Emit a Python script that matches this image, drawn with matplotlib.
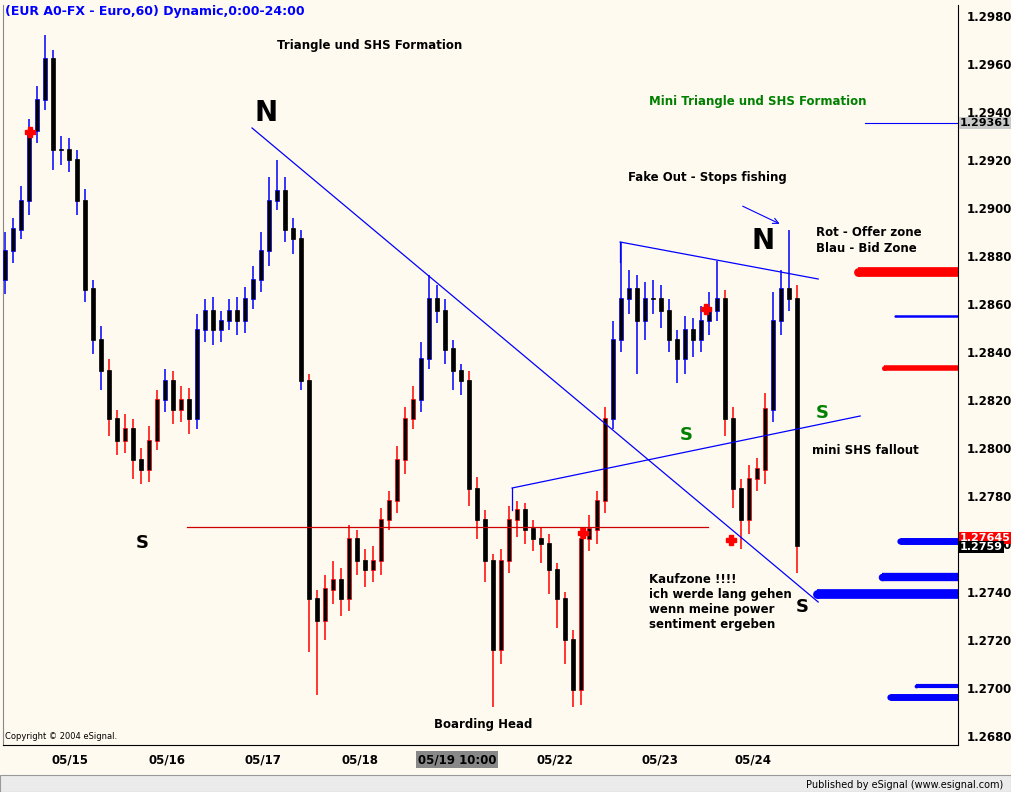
import numpy as np
import matplotlib.pyplot as plt

# hourly-ish EUR/USD bars (2h spacing)
closes = [1.2882, 1.2891, 1.2903, 1.2932, 1.2945, 1.2962, 1.2924, 1.2924, 1.2920, 1.2903,
          1.2866, 1.2845, 1.2832, 1.2812, 1.2803, 1.2808, 1.2795, 1.2791, 1.2803, 1.2820,
          1.2828, 1.2816, 1.2820, 1.2812, 1.2849, 1.2857, 1.2849, 1.2853, 1.2857, 1.2853,
          1.2862, 1.2870, 1.2882, 1.2903, 1.2907, 1.2891, 1.2887, 1.2828, 1.2737, 1.2728,
          1.2741, 1.2745, 1.2737, 1.2762, 1.2753, 1.2749, 1.2753, 1.2770, 1.2778, 1.2795,
          1.2812, 1.2820, 1.2837, 1.2862, 1.2857, 1.2841, 1.2832, 1.2828, 1.2783, 1.2770,
          1.2753, 1.2716, 1.2753, 1.2770, 1.2774, 1.2766, 1.2762, 1.2760, 1.2749, 1.2737,
          1.2720, 1.2699, 1.2762, 1.2766, 1.2778, 1.2812, 1.2845, 1.2862, 1.2866, 1.2853,
          1.2862, 1.2862, 1.2857, 1.2845, 1.2837, 1.2849, 1.2845, 1.2853, 1.2857, 1.2862,
          1.2812, 1.2783, 1.2770, 1.2787, 1.2791, 1.2816, 1.2853, 1.2866, 1.2862, 1.2759]
first_open = 1.2870
# wick extensions beyond the body, in pips
wick_up = [8, 5, 6, 5, 6, 10, 4, 6, 5, 4, 5, 4, 6, 5, 4, 6, 4, 5, 6, 4,
           5, 4, 6, 5, 7, 5, 6, 4, 5, 6, 5, 6, 8, 10, 13, 6, 5, 4, 3, 4,
           6, 8, 5, 6, 4, 5, 6, 5, 4, 6, 5, 6, 7, 10, 6, 5, 4, 3, 4, 5,
           4, 3, 5, 6, 4, 3, 4, 5, 4, 3, 3, 4, 5, 6, 4, 5, 8, 24, 8, 6,
           7, 8, 6, 5, 4, 6, 5, 6, 8, 16, 4, 5, 4, 6, 5, 7, 12, 8, 25, 6]
wick_dn = [6, 5, 4, 6, 5, 4, 8, 6, 5, 6, 5, 6, 8, 7, 6, 5, 8, 6, 5, 4,
           5, 6, 5, 6, 4, 5, 6, 5, 4, 6, 5, 4, 5, 6, 4, 5, 6, 4, 22, 31,
           8, 6, 7, 5, 6, 7, 5, 6, 4, 5, 6, 4, 5, 4, 5, 6, 8, 6, 7, 8,
           9, 24, 6, 5, 7, 6, 5, 8, 10, 12, 10, 7, 6, 5, 6, 5, 4, 5, 6, 22,
           8, 6, 7, 5, 10, 6, 7, 5, 6, 4, 7, 8, 12, 6, 5, 6, 5, 6, 5, 11]

date_pos = [8.1, 20.25, 32.25, 44.4, 56.5, 68.75, 81.9, 93.5]
date_labels = ['05/15', '05/16', '05/17', '05/18', '05/19 10:00', '05/22', '05/23', '05/24']
price_ticks = np.round(np.arange(1.2680, 1.2981, 0.002), 4)

bg = '#FFFAEF'
W, H = 1011, 792
fig = plt.figure(figsize=(W / 100, H / 100), dpi=100, facecolor=bg)
ax = fig.add_axes([3 / W, (H - 745) / H, 955 / W, 740 / H], facecolor=bg)
ax.set_xlim(-0.25, 119.1)
ax.set_ylim(1.298 - 729 / 24000, 1.298 + 11 / 24000)


def px(x, y):
    # screen pixel -> data coords
    return (x - 5) / 8, 1.298 - (y - 16) / 24000


opens = [first_open] + closes[:-1]
for i, (o, c) in enumerate(zip(opens, closes)):
    hi = max(o, c) + wick_up[i] / 10000
    lo = min(o, c) - wick_dn[i] / 10000
    col = 'blue' if c > 1.2825 else 'red'
    ax.vlines(i, lo, hi, color=col, lw=1.1, zorder=2)
    ax.bar(i, abs(c - o) + 0.00005, bottom=min(o, c), width=0.42, color='black',
           edgecolor=col if c > o else 'black', lw=0.5, zorder=3)

# trend lines
def line(p1, p2, col='blue', lw=0.9):
    a, b = px(*p1), px(*p2)
    ax.plot([a[0], b[0]], [a[1], b[1]], color=col, lw=lw, zorder=4)

line((252, 128), (818, 602))
line((512, 488), (860, 416))
line((620, 242), (818, 279))
line((512, 488), (512, 510))
line((620, 242), (620, 262))
line((187, 527), (708, 527), col='#cc0000', lw=0.9)
line((865, 123), (958, 123), lw=0.8)
a, b = px(740, 205), px(782, 225)
ax.annotate('', xy=b, xytext=a, arrowprops=dict(arrowstyle='->', color='blue', lw=0.8))

# order zones on the right
zones = [(858, 272, 'red', 7), (895, 316, 'blue', 1.8), (884, 368, 'red', 4),
         (900, 541, 'blue', 5), (882, 577, 'blue', 6), (817, 594, 'blue', 7),
         (916, 686, 'blue', 3), (890, 697, 'blue', 5)]
for x0, y0, col, lw in zones:
    a, b = px(x0, y0), px(958, y0)
    ax.plot([a[0], b[0]], [a[1], b[1]], color=col, lw=lw, solid_capstyle='butt', zorder=5)
    ax.plot(*a, marker='o', ms=lw * 0.9, color=col, mew=0, zorder=5)

for x0, y0 in [(30, 132), (706, 309), (583, 533), (731, 540)]:
    ax.plot(*px(x0, y0), marker='P', color='red', ms=7, zorder=6)

# texts
def txt(x, y, s, **kw):
    kw.setdefault('fontweight', 'bold')
    kw.setdefault('fontsize', 8.5)
    kw.setdefault('ha', 'center')
    kw.setdefault('va', 'center')
    ax.text(*px(x, y), s, zorder=7, **kw)

txt(370, 46, 'Triangle und SHS Formation')
txt(758, 101, 'Mini Triangle und SHS Formation', color='green')
txt(707, 178, 'Fake Out - Stops fishing')
txt(816, 241, 'Rot - Offer zone\nBlau - Bid Zone', ha='left', linespacing=1.3)
txt(812, 451, 'mini SHS fallout', ha='left')
txt(649, 602, 'Kaufzone !!!!\nich werde lang gehen\nwenn meine power\nsentiment ergeben', ha='left', linespacing=1.2)
txt(483, 725, 'Boarding Head')
txt(266, 113, 'N', fontsize=20)
txt(763, 241, 'N', fontsize=20)
txt(142, 543, 'S', fontsize=13)
txt(802, 607, 'S', fontsize=13)
txt(686, 435, 'S', fontsize=13, color='green')
txt(822, 413, 'S', fontsize=13, color='green')
ax.text(0.002, 0.005, 'Copyright \u00a9 2004 eSignal.', transform=ax.transAxes, fontsize=6, va='bottom')
fig.text(5 / W, 1 - 11 / H, '(EUR A0-FX - Euro,60) Dynamic,0:00-24:00', color='blue',
         fontsize=9, fontweight='bold', va='center')

ax.yaxis.tick_right()
ax.set_yticks(price_ticks)
ax.set_yticklabels(['%.4f' % p for p in price_ticks], fontsize=8.5, fontweight='bold')
ax.set_xticks(date_pos)
ax.set_xticklabels(date_labels, fontsize=8.5, fontweight='bold')
ax.tick_params(length=0, pad=6)
ax.get_xticklabels()[4].set_bbox(dict(facecolor='#888888', edgecolor='none', pad=1.5))
ax.spines['top'].set_visible(False)
ax.spines['left'].set_color('#888888')

# price boxes on axis
for y0, s, fc, tc in [(123, '1.29361', '#c8c8c8', 'black'), (538, '1.27645', 'red', 'white'),
                      (547, '1.2759', 'black', 'white')]:
    ax.text(1.002, px(0, y0)[1], s, transform=ax.get_yaxis_transform(), fontsize=8,
            fontweight='bold', color=tc, va='center', ha='left',
            bbox=dict(facecolor=fc, edgecolor='none', pad=0.8), zorder=8)

fig.patches.append(plt.Rectangle((0, 0), 1, 17 / H, transform=fig.transFigure, facecolor='#ebebeb',
                                 edgecolor='#999999', lw=0.8))
fig.text(1 - 8 / W, 7 / H, 'Published by eSignal (www.esignal.com)', fontsize=7, ha='right', va='center')

fig.savefig('out.png', dpi=100, facecolor=bg)
